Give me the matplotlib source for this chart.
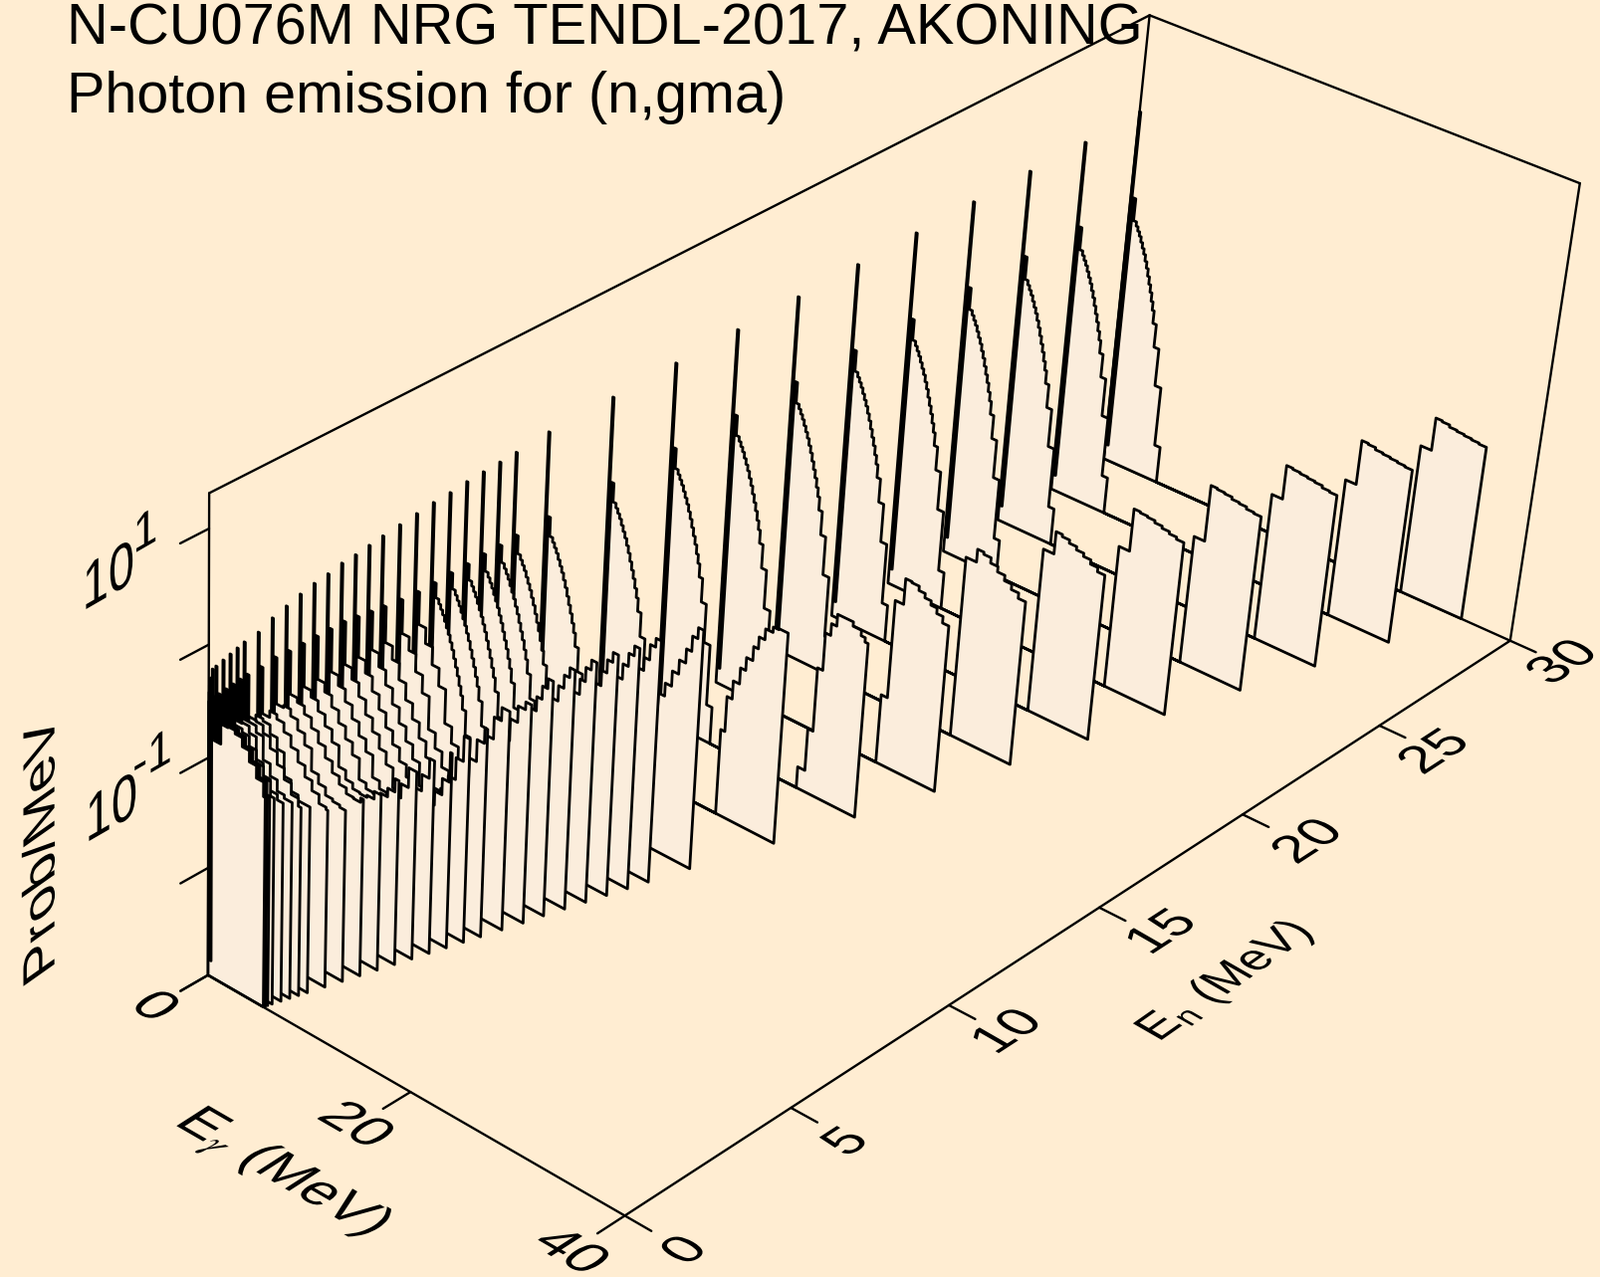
import numpy as np
import matplotlib
matplotlib.use("Agg")
import matplotlib.pyplot as plt
from matplotlib.patches import Polygon
from matplotlib.patheffects import AbstractPathEffect
from matplotlib.transforms import Affine2D

plt.rcParams['font.family'] = ['Liberation Sans', 'DejaVu Sans']
plt.rcParams['mathtext.fontset'] = 'custom'
plt.rcParams['mathtext.rm'] = 'Liberation Sans'
plt.rcParams['mathtext.it'] = 'STIXGeneral:italic'
plt.rcParams['mathtext.fallback'] = 'stix'

TITLE_1 = "N-CU076M NRG TENDL-2017, AKONING"
TITLE_2 = "Photon emission for (n,gma)"
EY_MAX, EN_MAX = 40.0, 30.0
LOG_MIN, LOG_MAX = -3.0, 1.3
EY_TICKS = [0, 20, 40]
EN_TICKS = [0, 5, 10, 15, 20, 25, 30]
LOG_TICKS = [-3, -2, -1, 0, 1]

# incident energies, rear to front
EN = [30, 28, 26, 24, 22, 20, 18, 16, 14, 12, 10, 9, 8.5, 8, 7.5, 7, 6.5, 6, 5.5, 5,
      4.6, 4.2, 3.8, 3.4, 3, 2.6, 2.2, 1.8, 1.4, 1, .8, .6, .4, .2, .1, .05, .02, .01, .001]
SPIKE = [.40, .38, .38, .37, .36, .35, .34, .33, .32, .31, .30, .27, .26, .25, .24, .22, .21, .19, .17, .15,
         .13, .11, .10, .07, .05, .02, -.02, -.06, -.12, -.14, -.16, -.18, -.20, -.22, -.23, -.3, -.36, -.42, -.5]
SECOND = [-.41, -.41, -.41, -.42, -.43, -.43, -.43, -.44, -.44, -.45, -.45, -.46, -.47, -.47, -.48, -.48, -.49, -.49, -.48, -.46,
          -.44, -.42, -.4, -.4, -.4, -.4, -.4, -.39, -.41, -.41, -.42, -.43, -.44, -.45, -.46, -.5, -.52, -.54, -.56]
DIP = -2.85

# common low-energy part of the high-En spectra (log10 prob per bin)
DECAY_E = [.5, .8, 1., 1.2, 1.4, 1.6, 1.8, 2., 2.2, 2.4, 2.6, 2.8, 3., 3.2, 3.4, 3.75, 4.25, 4.85, 5.4]
DECAY_P = [-.62, -.66, -.7, -.74, -.79, -.84, -.89, -.95, -1.01, -1.08, -1.15, -1.22, -1.3, -1.38,
           -1.5, -1.72, -2.08, -2.65]

# low-En continuous spectra, bins from LOW_E; the last bin stops at En + Q
Q = 5.57
LOW_E = [.5, 1.2, 1.9, 2.6, 3.3, 4., 4.7, 5.4, 6.1, 6.8, 7.5, 8.2, 8.9, 9.6, 10.3, 11., 11.7]
LOW_P = {
    0.001: [-.82, -.64, -.63, -.66, -.74, -.84, -.95, -1.08],
    .01: [-.82, -.64, -.63, -.66, -.74, -.84, -.95, -1.08],
    .02: [-.82, -.64, -.63, -.66, -.74, -.84, -.95, -1.08],
    .05: [-.82, -.65, -.63, -.67, -.75, -.85, -.96, -1.08],
    .1: [-.82, -.65, -.64, -.67, -.75, -.85, -.96, -1.08],
    .2: [-.83, -.66, -.65, -.68, -.77, -.88, -.98, -1.11],
    .4: [-.84, -.67, -.66, -.72, -.81, -.92, -1.03, -1.13, -1.18],
    .6: [-.84, -.69, -.69, -.75, -.85, -.96, -1.07, -1.17, -1.2],
    .8: [-.84, -.71, -.72, -.79, -.89, -1., -1.1, -1.2, -1.27],
    1: [-.84, -.73, -.75, -.83, -.93, -1.03, -1.14, -1.24, -1.29, -1.29],
    1.4: [-.82, -.76, -.8, -.88, -.98, -1.08, -1.18, -1.27, -1.35, -1.37],
    1.8: [-.8, -.78, -.84, -.93, -1.03, -1.13, -1.23, -1.31, -1.38, -1.4, -1.42],
    2.2: [-.78, -.82, -.89, -.98, -1.08, -1.18, -1.28, -1.35, -1.4, -1.41, -1.37],
    2.6: [-.78, -.84, -.93, -1.03, -1.14, -1.24, -1.33, -1.41, -1.46, -1.47, -1.45, -1.38],
    3: [-.78, -.86, -.96, -1.07, -1.18, -1.29, -1.39, -1.48, -1.53, -1.54, -1.5, -1.42, -1.3],
    3.4: [-.78, -.87, -.98, -1.1, -1.22, -1.33, -1.44, -1.53, -1.6, -1.62, -1.58, -1.45, -1.27],
    3.8: [-.78, -.88, -1., -1.13, -1.25, -1.37, -1.48, -1.58, -1.66, -1.7, -1.66, -1.55, -1.4, -1.22],
    4.2: [-.78, -.89, -1.02, -1.15, -1.28, -1.4, -1.52, -1.63, -1.72, -1.78, -1.75, -1.62, -1.47, -1.2],
    4.6: [-.78, -.9, -1.03, -1.17, -1.31, -1.44, -1.57, -1.68, -1.78, -1.85, -1.83, -1.7, -1.55, -1.35, -1.12],
    5: [-.78, -.9, -1.05, -1.2, -1.34, -1.48, -1.62, -1.75, -1.86, -1.95, -1.95, -1.82, -1.62, -1.42, -1.22, -1.08],
    5.5: [-.78, -.9, -1.06, -1.22, -1.37, -1.52, -1.66, -1.8, -1.93, -2.03, -2.05, -1.9, -1.7, -1.5, -1.3, -1.1, -.98],
    6: [-.78, -.92, -1.08, -1.24, -1.4, -1.55, -1.7, -1.85, -2., -2.12, -2.2, -2.05, -1.8, -1.6, -1.4, -1.2, -1.05, -.98],
}

# high-energy block of each high-En spectrum: bin edges above En, and log10 prob
BLOCK_E_A = [-.1, .4, 1., 1.6, 2.2, 2.8, 3.4, 4., 4.5, 5., 5.5]
BLOCK_E_B = [-.4, .6, 1.2, 1.9, 2.6, 3.3, 4., 4.7, 5.4]
BLOCK_E_12 = [0, .4, .9, 1.5, 2., 2.6, 3.05, 3.6, 4.3, 4.8, 5.7]
BLOCK_E_14 = [0, .7, 1.2, 1.7, 2.2, 2.7, 3.3, 4.2, 5., 5.4, 5.7]
BLOCK_E_16 = [0, .6, 1.4, 2., 2.7, 3.3, 3.9, 4.5, 5.1, 5.7]
BLOCK = {
    30: (BLOCK_E_B, [-1.57, -1.26, -1.27, -1.29, -1.3, -1.31, -1.32, -1.33]),
    28: (BLOCK_E_B, [-1.68, -1.26, -1.27, -1.29, -1.3, -1.31, -1.32, -1.33]),
    26: (BLOCK_E_B, [-1.6, -1.28, -1.29, -1.3, -1.31, -1.32, -1.34, -1.35]),
    24: (BLOCK_E_B, [-1.78, -1.25, -1.26, -1.27, -1.29, -1.3, -1.32, -1.33]),
    22: (BLOCK_E_B, [-1.65, -1.25, -1.26, -1.27, -1.29, -1.31, -1.33, -1.35]),
    20: (BLOCK_E_B, [-1.45, -1.24, -1.26, -1.29, -1.32, -1.35, -1.39, -1.43]),
    18: (BLOCK_E_B, [-1.3, -1.18, -1.2, -1.25, -1.3, -1.35, -1.4, -1.45]),
    16: (BLOCK_E_16, [-2.35, -1.43, -1.19, -1.2, -1.24, -1.28, -1.32, -1.37, -1.43]),
    14: (BLOCK_E_14, [-2.8, -2.4, -1.8, -1.45, -1.34, -1.23, -1.23, -1.27, -1.32, -1.36]),
    12: (BLOCK_E_12, [-2.2, -1.87, -1.7, -1.55, -1.43, -1.3, -1.19, -1.09, -1.04, -1.03]),
    10: (BLOCK_E_A, [-2.3, -1.85, -1.68, -1.54, -1.42, -1.28, -1.15, -1.02, -.88, -.78]),
    9: (BLOCK_E_A, [-2.2, -1.8, -1.62, -1.5, -1.38, -1.24, -1.1, -.98, -.84, -.76]),
    8.5: (BLOCK_E_A, [-2.2, -1.82, -1.65, -1.5, -1.38, -1.25, -1.12, -.98, -.86, -.77]),
    8: (BLOCK_E_A, [-2.2, -1.82, -1.65, -1.5, -1.38, -1.25, -1.12, -.98, -.86, -.77]),
    7.5: (BLOCK_E_A, [-2.25, -1.85, -1.68, -1.53, -1.4, -1.27, -1.14, -1., -.87, -.78]),
    7: (BLOCK_E_A, [-2.25, -1.85, -1.68, -1.53, -1.4, -1.27, -1.14, -1., -.88, -.79]),
    6.5: (BLOCK_E_A, [-2.3, -1.9, -1.72, -1.56, -1.43, -1.3, -1.17, -1.04, -.92, -.83]),
}

# frame of the view: box corners (Ey, En, log10 P) and where they fall in the picture
VIEW_BOX = [(0, 0, -3), (40, 0, -3), (40, 30, -3), (0, 0, 1.3), (40, 30, 1.3), (0, 30, 1.3), (0, 30, -3),
            (20, 0, -3), (40, 15, -3), (40, 5, -3), (40, 25, -3), (0, 0, -2), (0, 0, -1), (0, 0, 0), (0, 0, 1)]
VIEW_PX = [(210, 980), (627, 1222), (1517, 644), (210, 495), (1587, 186), (1154, 14), (1108, 461),
           (410, 1097), (1105, 910), (794, 1112), (1386, 729), (210, 873), (210, 762), (210, 648), (210, 530)]


def fit_camera(box, px):
    rows = []
    for (a, b, c), (u, v) in zip(box, px):
        X = [a / EY_MAX, b / EN_MAX, (c - LOG_MIN) / (LOG_MAX - LOG_MIN), 1.0]
        rows.append([*X, 0, 0, 0, 0, *[-u * k for k in X]])
        rows.append([0, 0, 0, 0, *X, *[-v * k for k in X]])
    return np.linalg.svd(np.array(rows))[2][-1].reshape(3, 4)


CAM = fit_camera(VIEW_BOX, VIEW_PX)


def project(ey, en, lg):
    ey, en, lg = np.broadcast_arrays(np.asarray(ey, float), np.asarray(en, float), np.asarray(lg, float))
    X = np.stack([ey / EY_MAX, en / EN_MAX, (lg - LOG_MIN) / (LOG_MAX - LOG_MIN), np.ones_like(ey)])
    w = CAM @ X
    return np.column_stack([w[0] / w[2], w[1] / w[2]])


class Shear(AbstractPathEffect):
    """Lay a text into a plane: keep its baseline, send its upright to `up`."""

    def __init__(self, anchor, angle, up, su, sv):
        super().__init__()
        t = np.deg2rad(angle)
        b = np.array([np.cos(t), np.sin(t)])
        n = np.array([-np.sin(t), np.cos(t)])
        w = np.array(up, float)
        w /= np.hypot(*w)
        A = su * np.outer(b, b) + sv * np.outer(w, n)
        self.m = Affine2D.from_values(A[0, 0], A[1, 0], A[0, 1], A[1, 1], 0, 0)
        self.anchor = anchor

    def draw_path(self, renderer, gc, tpath, affine, rgbFace=None):
        cx, cy = self.anchor
        renderer.draw_path(gc, tpath, affine + Affine2D().translate(-cx, -cy) + self.m + Affine2D().translate(cx, cy), rgbFace)


W, H = 1607, 1283
BG = '#FFEDD2'
SHEET = '#FBEDDC'
LW = 1.7
LW_SHEET = 2.0
fig = plt.figure(figsize=(W / 100, H / 100), dpi=100, facecolor=BG)
ax = fig.add_axes([0, 0, 1, 1])
ax.set_xlim(0, W)
ax.set_ylim(H, 0)
ax.axis('off')


def line(a, b, z=1, lw=LW):
    p = project(*np.array([a, b]).T)
    ax.plot(p[:, 0], p[:, 1], color='k', lw=lw, zorder=z, solid_capstyle='round')


# rear of the box
line((0, 0, LOG_MAX), (0, EN_MAX, LOG_MAX))
line((0, EN_MAX, LOG_MAX), (EY_MAX, EN_MAX, LOG_MAX))
line((0, 0, LOG_MIN), (0, 0, LOG_MAX))
line((EY_MAX, EN_MAX, LOG_MIN), (EY_MAX, EN_MAX, LOG_MAX))
line((0, EN_MAX, LOG_MIN), (0, EN_MAX, LOG_MAX))
line((0, EN_MAX, LOG_MIN), (EY_MAX, EN_MAX, LOG_MIN))

# sheets, rear to front
for i, (en, sp, se) in enumerate(zip(EN, SPIKE, SECOND)):
    xs = [0, 0, .12, .12, .3, .3, .5]
    zs = [LOG_MIN, sp, sp, DIP, DIP, se, se]
    if en in BLOCK:
        for k, v in enumerate(DECAY_P):
            xs += [DECAY_E[k], DECAY_E[k + 1]]
            zs += [v, v]
        xs += [DECAY_E[-1]]
        zs += [LOG_MIN]
        edges, vals = BLOCK[en]
        xs += [en + edges[0]]
        zs += [LOG_MIN]
        for k, v in enumerate(vals):
            xs += [en + edges[k], en + edges[k + 1]]
            zs += [v, v]
        end = en + edges[-1]
    else:
        vals = LOW_P[en]
        end = en + Q
        edges = [e for e in LOW_E if e < end - .15] + [end]
        n = len(edges) - 1
        for k in range(n):
            v = vals[round(k * (len(vals) - 1) / (n - 1))]
            xs += [edges[k], edges[k + 1]]
            zs += [v, v]
    xs += [end]
    zs += [LOG_MIN]
    p = project(xs, en, zs)
    ax.add_patch(Polygon(p, closed=True, facecolor=SHEET, edgecolor='k', lw=LW_SHEET, joinstyle='round', zorder=2 + i * .01))

# front floor edges
line((0, 0, LOG_MIN), (EY_MAX, 0, LOG_MIN), z=3)
line((EY_MAX, 0, LOG_MIN), (EY_MAX, EN_MAX, LOG_MIN), z=3)

# ticks
TICK_EY, TICK_EN = 2.4, -.8
for t in LOG_TICKS:
    line((0, 0, t), (0, TICK_EN, t), z=3)
for t in EY_TICKS:
    line((t, 0, LOG_MIN), (t, TICK_EN, LOG_MIN), z=3)
for t in EN_TICKS:
    line((EY_MAX, t, LOG_MIN), (EY_MAX + TICK_EY, t, LOG_MIN), z=3)


def label(x, y, s, angle, up, su, sv, size=41):
    dx, dy = ax.transData.transform((x, y))
    ax.text(x, y, s, fontsize=size, rotation=angle, rotation_mode='anchor', ha='center', va='center', color='k', zorder=5,
            path_effects=[Shear((dx, dy), angle, up, su, sv)])


FLOOR_EY_UP = (.84, .54)
FLOOR_EN_UP = (-.87, .5)
for t, (x, y) in zip(EY_TICKS, [(154, 1012), (356, 1131), (572, 1258)]):
    label(x, y, str(t), -30, FLOOR_EY_UP, 1.02, .95)
for t, (x, y) in zip(EN_TICKS, [(689, 1257), (851, 1148), (1013, 1037), (1168, 937), (1315, 846), (1442, 756), (1571, 666)]):
    label(x, y, str(t), 33, FLOOR_EN_UP, .95, .92)
label(282, 1179, r'$\mathrm{E}_{\gamma}$ (MeV)', -30, FLOOR_EY_UP, 1.0, .97)
label(1231, 986, r'$\mathrm{E}_{\mathrm{n}}$ (MeV)', 35, FLOOR_EN_UP, .82, .85)
label(109, 582, '10', 30, (0, 1), .95, 1.13)
label(146, 536, '1', 30, (0, 1), .9, .9)
label(112, 815, '10', 30, (0, 1), .95, 1.13)
label(153, 762, '-1', 30, (0, 1), .9, .9)
label(43, 852, 'Prob/MeV', 90, (-.82, -.58), 1., .95, size=42)

ax.text(67, 44, TITLE_1, fontsize=41.6, ha='left', va='baseline', color='k', zorder=6)
ax.text(67, 113, TITLE_2, fontsize=41.4, ha='left', va='baseline', color='k', zorder=6)

fig.savefig('out.png', dpi=100, facecolor=BG)
